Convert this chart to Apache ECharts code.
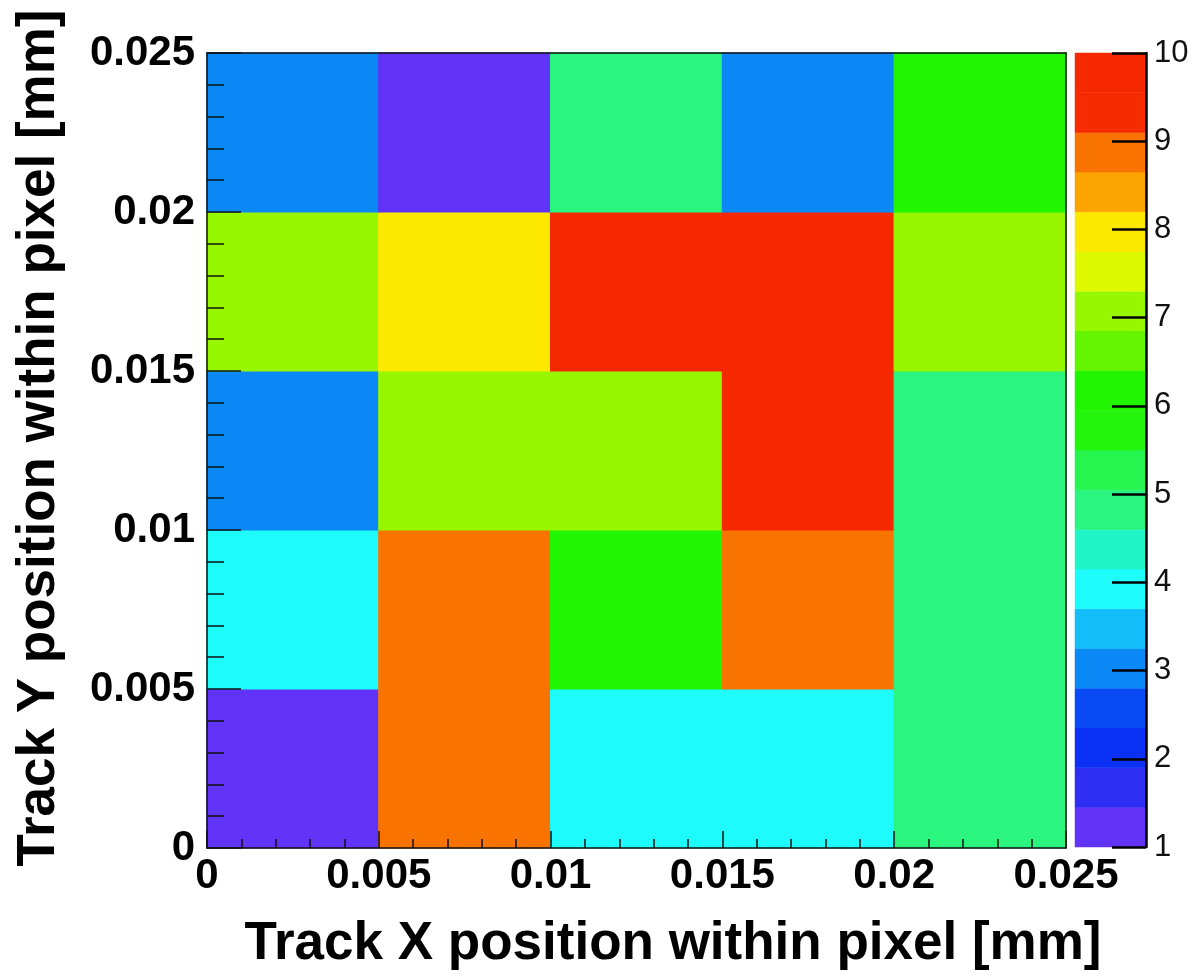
<!DOCTYPE html>
<html>
<head>
<meta charset="utf-8">
<script src="https://cdn.jsdelivr.net/npm/echarts@6/dist/echarts.min.js"></script>
<style>
  html, body { margin: 0; padding: 0; background: #ffffff; }
  #chart { width: 1201px; height: 979px; }
</style>
</head>
<body>
<div id="chart"></div>
<script>
// Bin edges along each axis [mm]
const xEdges = [0, 0.005, 0.01, 0.015, 0.02, 0.025];
const yEdges = [0, 0.005, 0.01, 0.015, 0.02, 0.025];

// Bin contents, one array per Y bin (lowest Y first), entries follow the X bins
const rowY0 = [1, 9, 4, 4, 5];
const rowY1 = [4, 9, 6, 9, 5];
const rowY2 = [3, 7, 7, 10, 5];
const rowY3 = [7, 8, 10, 10, 7];
const rowY4 = [3, 1, 5, 3, 6];
const binRows = [rowY0, rowY1, rowY2, rowY3, rowY4];

// Colour scale: 20 contour levels between 1 and 10
const zLevels = [1, 1.45, 1.9, 2.35, 2.8, 3.25, 3.7, 4.15, 4.6, 5.05, 5.5,
                 5.95, 6.4, 6.85, 7.3, 7.75, 8.2, 8.65, 9.1, 9.55, 10];
const levelColors = ['#6033f6', '#2f2ef3', '#0a31f5', '#0a4af4', '#0a88f6',
                     '#13bdf9', '#1dfbfb', '#20f5c7', '#2af57e', '#27f54f',
                     '#23f50c', '#22f500', '#63f600', '#97f700', '#ddf900',
                     '#fde800', '#fba300', '#f97300', '#f62b00', '#f62800'];

// Axis ticks
const posTickStep = 0.005;
const zTickStep = 1;

const xTitle = 'Track X position within pixel [mm]';
const yTitle = 'Track Y position within pixel [mm]';

// Cell records: [x low, x high, y low, y high, content]
const cells = [];
binRows.forEach((row, j) => {
  row.forEach((z, i) => {
    cells.push([xEdges[i], xEdges[i + 1], yEdges[j], yEdges[j + 1], z]);
  });
});

// Palette bands: [level low, level high, band index]
const bands = levelColors.map((c, k) => [zLevels[k], zLevels[k + 1], k]);

const pieces = levelColors.map((c, k) => {
  const p = { gte: zLevels[k], color: c };
  if (k === levelColors.length - 1) p.lte = zLevels[k + 1];
  else p.lt = zLevels[k + 1];
  return p;
});

const FONT = 'Liberation Sans, Arial, Helvetica, sans-serif';
const INK = '#111111';
const fmtPos = v => String(+(+v).toFixed(3));

function frameAxisLine() {
  return { show: true, onZero: false, lineStyle: { color: INK, width: 1.5 } };
}

const chart = echarts.init(document.getElementById('chart'), null, { renderer: 'canvas' });

chart.setOption({
  animation: false,
  backgroundColor: '#ffffff',
  grid: [
    { left: 207, right: 135, top: 53, bottom: 131, outerBoundsMode: 'none', containLabel: false },
    { left: 1075, right: 55, top: 53, bottom: 132, outerBoundsMode: 'none', containLabel: false }
  ],
  visualMap: {
    type: 'piecewise',
    show: false,
    seriesIndex: 0,
    dimension: 4,
    pieces: pieces
  },
  xAxis: [
    {
      type: 'value', gridIndex: 0, position: 'bottom', z: 10,
      min: xEdges[0], max: xEdges[xEdges.length - 1], interval: posTickStep,
      axisLine: frameAxisLine(),
      axisTick: { show: true, inside: true, length: 17, lineStyle: { color: INK, width: 1.5 } },
      minorTick: { show: true, splitNumber: 5, length: 9, lineStyle: { color: INK, width: 1.5 } },
      splitLine: { show: false },
      minorSplitLine: { show: false },
      axisLabel: {
        show: true, margin: 7, color: '#000', fontFamily: FONT, fontWeight: 'bold', fontSize: 42,
        showMinLabel: true, showMaxLabel: true, hideOverlap: false, formatter: fmtPos
      }
    },
    {
      type: 'value', gridIndex: 0, position: 'top', z: 10,
      min: xEdges[0], max: xEdges[xEdges.length - 1], interval: posTickStep,
      axisLine: frameAxisLine(),
      axisTick: { show: false }, axisLabel: { show: false }, splitLine: { show: false }
    },
    {
      type: 'value', gridIndex: 1, show: false, min: 0, max: 1
    }
  ],
  yAxis: [
    {
      type: 'value', gridIndex: 0, position: 'left', z: 10,
      min: yEdges[0], max: yEdges[yEdges.length - 1], interval: posTickStep,
      axisLine: frameAxisLine(),
      axisTick: { show: true, inside: true, length: 34, lineStyle: { color: INK, width: 1.5 } },
      minorTick: { show: true, splitNumber: 5, length: 17, lineStyle: { color: INK, width: 1.5 } },
      splitLine: { show: false },
      minorSplitLine: { show: false },
      axisLabel: {
        show: true, margin: 12, color: '#000', fontFamily: FONT, fontWeight: 'bold', fontSize: 42,
        showMinLabel: true, showMaxLabel: true, hideOverlap: false, formatter: fmtPos
      }
    },
    {
      type: 'value', gridIndex: 0, position: 'right', z: 10,
      min: yEdges[0], max: yEdges[yEdges.length - 1], interval: posTickStep,
      axisLine: frameAxisLine(),
      axisTick: { show: false }, axisLabel: { show: false }, splitLine: { show: false }
    },
    {
      type: 'value', gridIndex: 1, position: 'right', z: 10,
      min: zLevels[0], max: zLevels[zLevels.length - 1], interval: zTickStep,
      axisLine: { show: true, onZero: false, lineStyle: { color: '#000', width: 2.5 } },
      axisTick: { show: true, inside: true, length: 34, lineStyle: { color: '#000', width: 2.5 } },
      splitLine: { show: false },
      axisLabel: {
        show: true, margin: 8, color: '#111', fontFamily: FONT, fontSize: 31,
        showMinLabel: true, showMaxLabel: true, hideOverlap: false
      }
    }
  ],
  series: [
    {
      // 2D histogram cells
      type: 'custom',
      xAxisIndex: 0,
      yAxisIndex: 0,
      data: cells,
      encode: { x: [0, 1], y: [2, 3] },
      renderItem: function (params, api) {
        const p0 = api.coord([api.value(0), api.value(3)]);
        const p1 = api.coord([api.value(1), api.value(2)]);
        return {
          type: 'rect',
          shape: { x: p0[0], y: p0[1], width: p1[0] - p0[0], height: p1[1] - p0[1] },
          style: { fill: api.visual('color'), stroke: api.visual('color'), lineWidth: 1.2 }
        };
      }
    },
    {
      // Palette bar
      type: 'custom',
      xAxisIndex: 2,
      yAxisIndex: 2,
      data: bands,
      encode: { y: [0, 1] },
      renderItem: function (params, api) {
        const p0 = api.coord([0, api.value(1)]);
        const p1 = api.coord([1, api.value(0)]);
        const c = levelColors[api.value(2)];
        return {
          type: 'rect',
          shape: { x: p0[0], y: p0[1], width: p1[0] - p0[0], height: p1[1] - p0[1] },
          style: { fill: c, stroke: c, lineWidth: 0.5 }
        };
      }
    }
  ],
  graphic: [
    {
      type: 'text',
      x: 673, y: 944,
      style: {
        text: xTitle, fill: '#000',
        font: 'bold 53px ' + FONT,
        align: 'center', verticalAlign: 'middle'
      }
    },
    {
      type: 'text',
      x: 39, y: 438,
      rotation: Math.PI / 2,
      style: {
        text: yTitle, fill: '#000',
        font: 'bold 53px ' + FONT,
        align: 'center', verticalAlign: 'middle'
      }
    }
  ]
});
</script>
</body>
</html>
